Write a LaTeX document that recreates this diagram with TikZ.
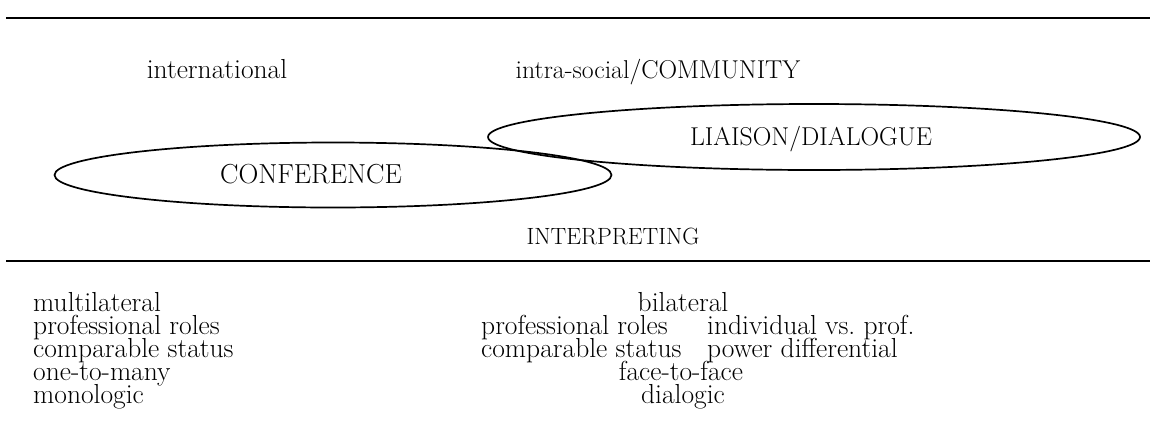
\documentclass[tikz,border=0pt]{standalone}
\usetikzlibrary{shapes.geometric}
\begin{document}
\begin{tikzpicture}[x=1pt,y=-1pt,
  lbl/.style={inner sep=0pt,anchor=base,text height=17pt,text depth=5pt,
    font=\fontsize{27.5}{30}\selectfont},
  lbll/.style={lbl,anchor=base west},
  caps/.style={lbl,font=\fontsize{25.8}{28}\selectfont},
  oval/.style={draw,ellipse,line width=1.7pt,inner sep=0pt},
  rule/.style={line width=2.3pt}]
\useasboundingbox (0,0) rectangle (1150,445);

% horizontal rules
\coordinate (t1) at (6,18);
\coordinate (t2) at (1150,18);
\coordinate (b1) at (6,261);
\coordinate (b2) at (1150,261);
\draw[rule] (t1) -- (t2);
\draw[rule,line width=2.7pt] (b1) -- (b2);

% top labels
\node[lbl] (intl) at (217,78) {international};
\node[caps] (intra) at (658,78) {intra-social/COMMUNITY};

% ellipses
\node[oval,minimum width=652pt,minimum height=66pt] (liaison) at (814,137) {};
\node[oval,minimum width=557pt,minimum height=65pt] (conf) at (333,175) {};
\node[caps] (liaisontxt) at (811,145) {LIAISON/DIALOGUE};
\node[lbl] (conftxt) at (311,183) {CONFERENCE};

\node[lbl,font=\fontsize{23.5}{26}\selectfont] (interp) at (613,244) {INTERPRETING};

% left column
\node[lbll] (l1) at (33,311) {multilateral};
\node[lbll] (l2) at (33,334) {professional roles};
\node[lbll] (l3) at (33,357) {comparable status};
\node[lbll] (l4) at (33,380) {one-to-many};
\node[lbll] (l5) at (33,403) {monologic};

% right columns
\node[lbl] (r1) at (683,311) {bilateral};
\node[lbll] (r2a) at (481,334) {professional roles};
\node[lbll] (r2b) at (707,334) {individual vs.\ prof.};
\node[lbll] (r3a) at (481,357) {comparable status};
\node[lbll] (r3b) at (707,357) {power differential};
\node[lbl] (r4) at (681,380) {face-to-face};
\node[lbl] (r5) at (683,403) {dialogic};
\end{tikzpicture}
\end{document}
